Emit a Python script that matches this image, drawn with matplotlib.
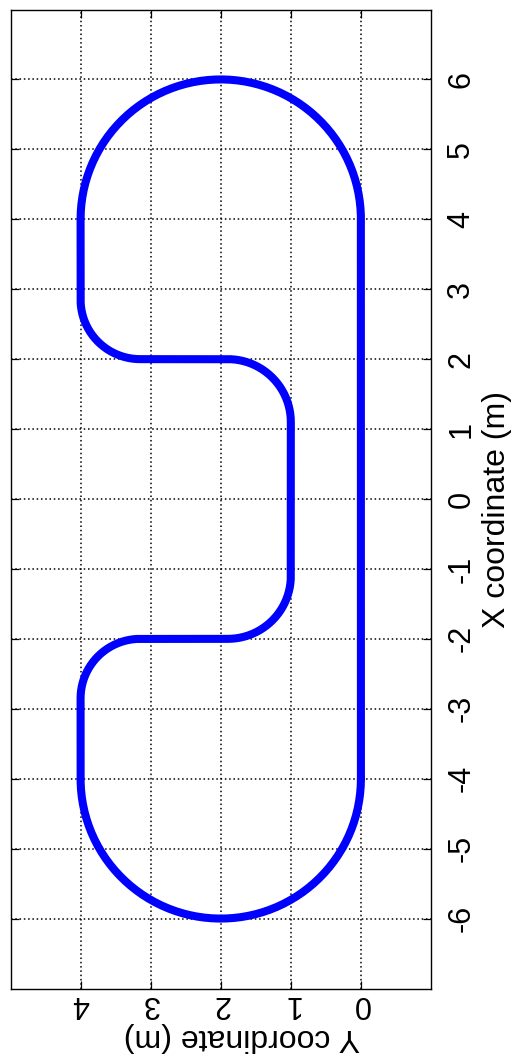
import numpy as np
import matplotlib
matplotlib.use("Agg")
import matplotlib.pyplot as plt

plt.rcParams['font.family'] = ['Liberation Sans', 'DejaVu Sans']

# track: straight pieces joined by arcs
# arcs: (centre x, centre y, radius, start angle deg, end angle deg)
arcs = [
    (4.0, 2.0, 2.0, -90, 90),
    (2.85, 3.15, 0.85, 90, 180),
    (1.1, 1.9, 0.9, 0, -90),
    (-1.1, 1.9, 0.9, -90, -180),
    (-2.85, 3.15, 0.85, 0, 90),
    (-4.0, 2.0, 2.0, 90, 270),
]
x_ticks = list(range(-6, 7))
y_ticks = [0, 1, 2, 3, 4]
x_lim = (-7, 7)
y_lim = (-1, 5)

# build the path: arcs are joined by straight lines in order
xs, ys = [-4.0], [0.0]
for cx, cy, r, a0, a1 in arcs:
    t = np.radians(np.linspace(a0, a1, 120))
    xs.extend(cx + r * np.cos(t))
    ys.extend(cy + r * np.sin(t))
xs.append(-4.0)
ys.append(0.0)

fig = plt.figure(figsize=(5.16, 10.61), dpi=100)
ax = fig.add_axes([10.5 / 516, 1 - 988.5 / 1061, 420.5 / 516, 979 / 1061])

# figure is drawn turned a quarter turn: X runs up, Y runs left
ax.plot(ys, xs, color='#0000ff', linewidth=5.8, solid_capstyle='round')

ax.set_xlim(y_lim[1], y_lim[0])
ax.set_ylim(*x_lim)
ax.set_xticks(y_ticks)
ax.set_yticks(x_ticks)
ax.set_xticklabels([str(v) for v in y_ticks])
ax.set_yticklabels([str(v) for v in x_ticks])

ax.grid(True, color='black', linestyle=(0, (1.0, 1.8)), linewidth=1.1)
ax.tick_params(direction='in', length=6, width=0.9,
               top=True, bottom=True, left=True, right=True,
               labelleft=False, labelright=True, labelsize=22)
ax.tick_params(axis='x', labelrotation=180, pad=0.5)
ax.tick_params(axis='y', labelrotation=90, pad=11)
for lab in ax.get_yticklabels():
    lab.set_va('center')
    lab.set_ha('left')

ax.set_xlabel('Y coordinate (m)', fontsize=23, rotation=180)
ax.xaxis.label.set_ha('center')
ax.xaxis.label.set_va('center')
ax.xaxis.set_label_coords(0.55, -0.05)
ax.yaxis.set_label_position('right')
ax.set_ylabel('X coordinate (m)', fontsize=23, rotation=90)
ax.yaxis.label.set_ha('center')
ax.yaxis.label.set_va('center')
ax.yaxis.set_label_coords(1.157, 0.489)

for s in ax.spines.values():
    s.set_linewidth(1.0)

fig.savefig('out.png', dpi=100)
